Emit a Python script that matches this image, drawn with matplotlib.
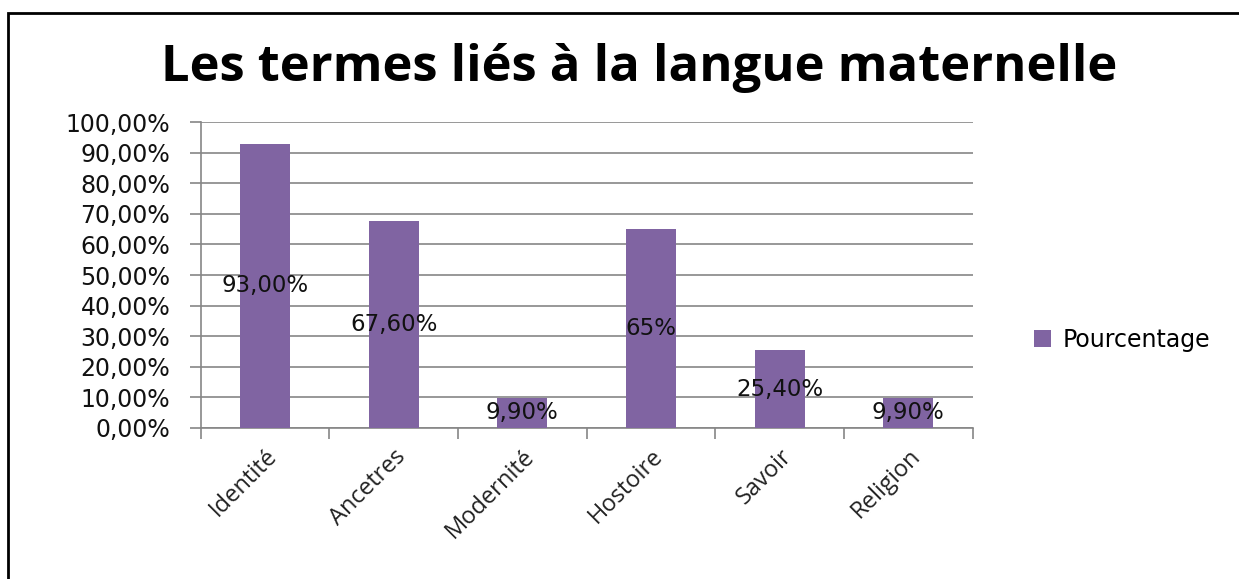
import numpy as np
import matplotlib.pyplot as plt
from matplotlib.patches import Rectangle
from matplotlib.ticker import FuncFormatter

# Données du graphique
categories = ['Identité', 'Ancetres', 'Modernité', 'Hostoire', 'Savoir', 'Religion']
pourcentages = [0.93, 0.676, 0.099, 0.65, 0.254, 0.099]
etiquettes = ['93,00%', '67,60%', '9,90%', '65%', '25,40%', '9,90%']

violet = '#8064A2'
gris = '#868686'

fig = plt.figure(figsize=(12.39, 5.79), dpi=100)
ax = fig.add_axes([0.162, 0.261, 0.623, 0.528])

x = np.arange(len(categories))
barres = ax.bar(x, pourcentages, width=0.39, color=violet, zorder=3, label='Pourcentage')

# Etiquettes au milieu des barres
for xi, v, txt in zip(x, pourcentages, etiquettes):
    ax.text(xi, v / 2, txt, ha='center', va='center', fontsize=16.5,
            family='DejaVu Sans', color='#111111', zorder=4)

ax.set_xlim(-0.5, len(categories) - 0.5)
ax.set_ylim(0, 1.0)
ax.set_yticks(np.arange(0, 1.01, 0.1))
ax.yaxis.set_major_formatter(FuncFormatter(lambda v, p: f'{v * 100:.2f}'.replace('.', ',') + '%'))
ax.grid(axis='y', color=gris, linewidth=1.2, zorder=0)

# Graduations de l'axe x aux limites des catégories
ax.set_xticks(np.arange(-0.5, len(categories), 1.0))
ax.set_xticklabels([])
ax.set_xticks(x, minor=True)
ax.set_xticklabels(categories, minor=True, rotation=45, ha='right', va='top',
                   rotation_mode='anchor', fontsize=17, family='Open Sans', color='#222222')
ax.tick_params(axis='x', which='minor', length=0, pad=12)
ax.tick_params(axis='x', which='major', length=8, color=gris, width=1.2)
ax.tick_params(axis='y', length=8, color=gris, width=1.2, pad=14, labelsize=17,
               labelcolor='#111111')
for lab in ax.get_yticklabels():
    lab.set_family('DejaVu Sans')

for s in ['top', 'right']:
    ax.spines[s].set_visible(False)
for s in ['left', 'bottom']:
    ax.spines[s].set_color(gris)
    ax.spines[s].set_linewidth(1.2)

fig.suptitle('Les termes liés à la langue maternelle', x=0.516, y=0.925,
             fontsize=36.5, fontweight='bold', family='Open Sans')

fig.legend(handles=[barres], labels=['Pourcentage'], loc='center left',
           bbox_to_anchor=(0.817, 0.413), frameon=False,
           handlelength=0.75, handleheight=0.75, handletextpad=0.5,
           prop={'family': 'DejaVu Sans', 'size': 17})

# Cadre noir autour du graphique
fig.patches.append(Rectangle((8 / 1239, -0.1), 1.2, 1 - 13 / 579 + 0.1,
                             transform=fig.transFigure, fill=False,
                             edgecolor='black', linewidth=2))

fig.savefig('out.png', dpi=100)
